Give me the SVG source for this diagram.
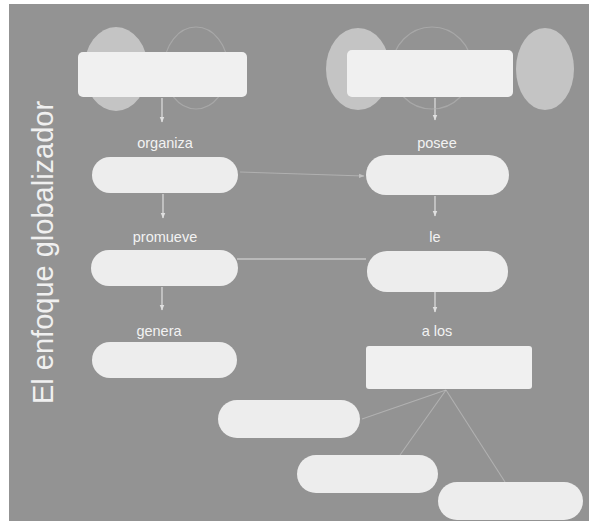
<svg xmlns="http://www.w3.org/2000/svg" width="590" height="522" viewBox="0 0 590 522">
  <defs>
    <style>
      .bg { fill: #939393; }
      .pill { fill: #ededed; }
      .box { fill: #f0f0f0; }
      .halo { fill: #c4c4c4; }
      .halo-line { fill: none; stroke: #b0b0b0; stroke-width: 1.2; opacity: 0.7; }
      .lbl { font-family: "Liberation Sans", Arial, sans-serif; font-size: 14.5px; fill: #f2f2f2; text-anchor: middle; }
      .title { font-family: "Liberation Sans", Arial, sans-serif; font-size: 29px; fill: #f0f0f0; }
      .conn { stroke: #e0e0e0; stroke-width: 1.2; fill: none; }
      .faint { stroke: #c4c4c4; stroke-width: 1.1; fill: none; opacity: 0.6; }
    </style>
    <marker id="arr" viewBox="0 0 10 10" refX="9" refY="5" markerWidth="5" markerHeight="5" orient="auto">
      <path d="M0,1 L10,5 L0,9 z" fill="#e0e0e0"/>
    </marker>
  </defs>

  <rect x="0" y="0" width="590" height="522" fill="#ffffff"/>
  <rect class="bg" x="9" y="4" width="580" height="517"/>

  <g id="title">
    <text class="title" transform="translate(53,404) rotate(-90)">El enfoque globalizador</text>
  </g>

  <g id="connectors">
    <line class="conn" x1="162" y1="98" x2="162" y2="122" marker-end="url(#arr)"/>
    <line class="conn" x1="163" y1="194" x2="163" y2="218" marker-end="url(#arr)"/>
    <line class="conn" x1="162" y1="287" x2="162" y2="310" marker-end="url(#arr)"/>
    <line class="conn" x1="435" y1="98" x2="435" y2="120" marker-end="url(#arr)"/>
    <line class="conn" x1="435" y1="196" x2="435" y2="216" marker-end="url(#arr)"/>
    <line class="conn" x1="435" y1="292" x2="435" y2="312" marker-end="url(#arr)"/>
    <line class="faint" x1="240" y1="172" x2="364" y2="176" marker-end="url(#arr)"/>
    <line class="conn" x1="237" y1="259" x2="366" y2="259"/>
    <line class="faint" x1="446" y1="390" x2="362" y2="419"/>
    <line class="faint" x1="446" y1="390" x2="400" y2="455"/>
    <line class="faint" x1="446" y1="390" x2="505" y2="482"/>
  </g>

  <g id="node-top-left">
    <ellipse class="halo" cx="116" cy="69" rx="32" ry="42"/>
    <ellipse class="halo-line" cx="196" cy="68" rx="32" ry="41"/>
    <rect class="box" x="78" y="52" width="169" height="45" rx="5"/>
  </g>

  <g id="node-top-right">
    <ellipse class="halo" cx="358" cy="69" rx="32" ry="41"/>
    <ellipse class="halo" cx="545" cy="69" rx="29" ry="41"/>
    <ellipse class="halo-line" cx="432" cy="68" rx="40" ry="41"/>
    <rect class="box" x="347" y="50" width="166" height="47" rx="5"/>
  </g>

  <g id="label-organiza"><text class="lbl" x="165" y="148">organiza</text></g>
  <g id="label-posee"><text class="lbl" x="437" y="148">posee</text></g>

  <g id="node-left-2"><rect class="pill" x="92" y="157" width="146" height="36" rx="18"/></g>
  <g id="node-right-2"><rect class="pill" x="366" y="155" width="143" height="40" rx="20"/></g>

  <g id="label-promueve"><text class="lbl" x="165" y="242">promueve</text></g>
  <g id="label-le"><text class="lbl" x="435" y="242">le</text></g>

  <g id="node-left-3"><rect class="pill" x="91" y="250" width="147" height="36" rx="18"/></g>
  <g id="node-right-3"><rect class="pill" x="367" y="251" width="141" height="41" rx="20"/></g>

  <g id="label-genera"><text class="lbl" x="159" y="336">genera</text></g>
  <g id="label-alos"><text class="lbl" x="437" y="336">a los</text></g>

  <g id="node-left-4"><rect class="pill" x="92" y="342" width="145" height="36" rx="18"/></g>
  <g id="node-right-4"><rect class="box" x="366" y="346" width="166" height="43" rx="3"/></g>

  <g id="node-bottom-1"><rect class="pill" x="218" y="400" width="142" height="38" rx="19"/></g>
  <g id="node-bottom-2"><rect class="pill" x="297" y="455" width="141" height="38" rx="19"/></g>
  <g id="node-bottom-3"><rect class="pill" x="438" y="482" width="145" height="38" rx="19"/></g>
</svg>
